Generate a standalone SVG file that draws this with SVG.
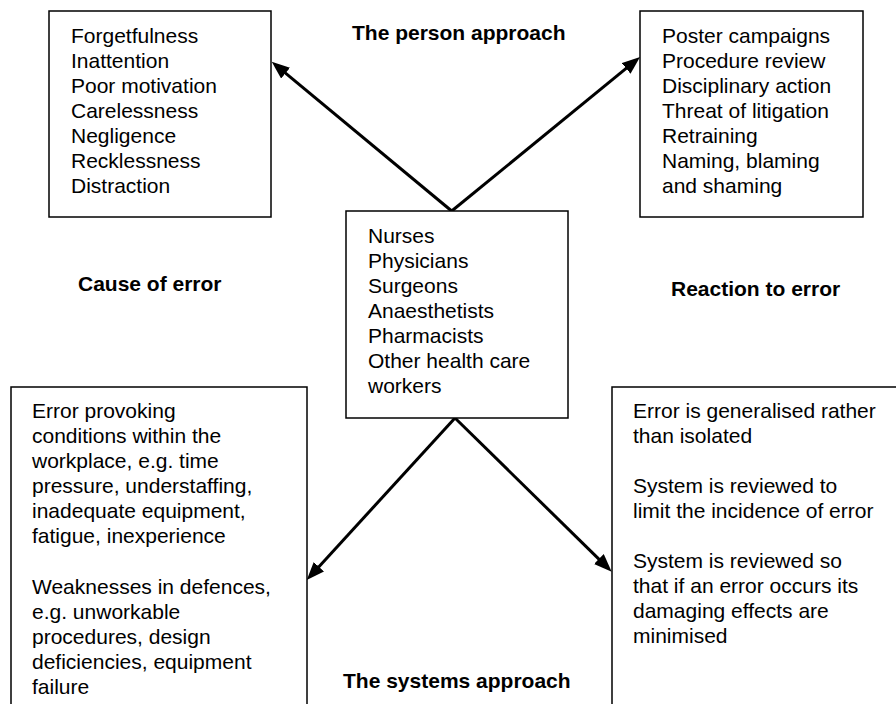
<svg xmlns="http://www.w3.org/2000/svg" width="896" height="704" viewBox="0 0 896 704">
  <style>
    .box { fill: #ffffff; stroke: #000000; stroke-width: 1.5; }
    .txt { font-family: "Liberation Sans", Arial, sans-serif; font-size: 21px; fill: #000000; }
    .head { font-family: "Liberation Sans", Arial, sans-serif; font-size: 21px; font-weight: bold; fill: #000000; }
    .arrow { stroke: #000000; stroke-width: 3; fill: none; marker-end: url(#tip); }
  </style>
  <defs>
    <marker id="tip" viewBox="0 0 18 14" markerWidth="18" markerHeight="14" refX="4" refY="7" orient="auto" markerUnits="userSpaceOnUse">
      <path d="M0,0 L18,7 L0,14 z" fill="#000000"/>
    </marker>
  </defs>
  <rect width="896" height="704" fill="#ffffff"/>

  <!-- connectors -->
  <g id="connectors">
    <line class="arrow" x1="451.7" y1="211" x2="282.5" y2="70.6"/>
    <line class="arrow" x1="451.7" y1="211" x2="629.2" y2="65.9"/>
    <line class="arrow" x1="455" y1="418" x2="316.2" y2="569.7"/>
    <line class="arrow" x1="455" y1="418" x2="601.7" y2="561.9"/>
  </g>

  <!-- person approach: causes -->
  <g id="person-causes">
    <rect class="box" x="49" y="11" width="222" height="206"/>
    <text class="txt" x="71" y="43">
      <tspan x="71">Forgetfulness</tspan>
      <tspan x="71" dy="25">Inattention</tspan>
      <tspan x="71" dy="25">Poor motivation</tspan>
      <tspan x="71" dy="25">Carelessness</tspan>
      <tspan x="71" dy="25">Negligence</tspan>
      <tspan x="71" dy="25">Recklessness</tspan>
      <tspan x="71" dy="25">Distraction</tspan>
    </text>
  </g>

  <!-- person approach: reactions -->
  <g id="person-reactions">
    <rect class="box" x="640" y="11" width="223" height="206"/>
    <text class="txt" x="662" y="43">
      <tspan x="662">Poster campaigns</tspan>
      <tspan x="662" dy="25">Procedure review</tspan>
      <tspan x="662" dy="25">Disciplinary action</tspan>
      <tspan x="662" dy="25">Threat of litigation</tspan>
      <tspan x="662" dy="25">Retraining</tspan>
      <tspan x="662" dy="25">Naming, blaming</tspan>
      <tspan x="662" dy="25">and shaming</tspan>
    </text>
  </g>

  <!-- health care workers -->
  <g id="workers">
    <rect class="box" x="346" y="211" width="222" height="207"/>
    <text class="txt" x="368" y="243">
      <tspan x="368">Nurses</tspan>
      <tspan x="368" dy="25">Physicians</tspan>
      <tspan x="368" dy="25">Surgeons</tspan>
      <tspan x="368" dy="25">Anaesthetists</tspan>
      <tspan x="368" dy="25">Pharmacists</tspan>
      <tspan x="368" dy="25">Other health care</tspan>
      <tspan x="368" dy="25">workers</tspan>
    </text>
  </g>

  <!-- systems approach: causes -->
  <g id="system-causes">
    <rect class="box" x="11" y="387" width="296" height="340"/>
    <text class="txt" x="32" y="418">
      <tspan x="32">Error provoking</tspan>
      <tspan x="32" dy="25">conditions within the</tspan>
      <tspan x="32" dy="25">workplace, e.g. time</tspan>
      <tspan x="32" dy="25">pressure, understaffing,</tspan>
      <tspan x="32" dy="25">inadequate equipment,</tspan>
      <tspan x="32" dy="25">fatigue, inexperience</tspan>
      <tspan x="32" dy="51">Weaknesses in defences,</tspan>
      <tspan x="32" dy="25">e.g. unworkable</tspan>
      <tspan x="32" dy="25">procedures, design</tspan>
      <tspan x="32" dy="25">deficiencies, equipment</tspan>
      <tspan x="32" dy="25">failure</tspan>
    </text>
  </g>

  <!-- systems approach: reactions -->
  <g id="system-reactions">
    <rect class="box" x="612" y="387" width="300" height="340"/>
    <text class="txt" x="633" y="418">
      <tspan x="633">Error is generalised rather</tspan>
      <tspan x="633" dy="25">than isolated</tspan>
      <tspan x="633" dy="50">System is reviewed to</tspan>
      <tspan x="633" dy="25">limit the incidence of error</tspan>
      <tspan x="633" dy="50">System is reviewed so</tspan>
      <tspan x="633" dy="25">that if an error occurs its</tspan>
      <tspan x="633" dy="25">damaging effects are</tspan>
      <tspan x="633" dy="25">minimised</tspan>
    </text>
  </g>

  <!-- headings -->
  <g id="headings">
    <text class="head" x="352" y="40">The person approach</text>
    <text class="head" x="78" y="291">Cause of error</text>
    <text class="head" x="671" y="296">Reaction to error</text>
    <text class="head" x="343" y="688">The systems approach</text>
  </g>
</svg>
